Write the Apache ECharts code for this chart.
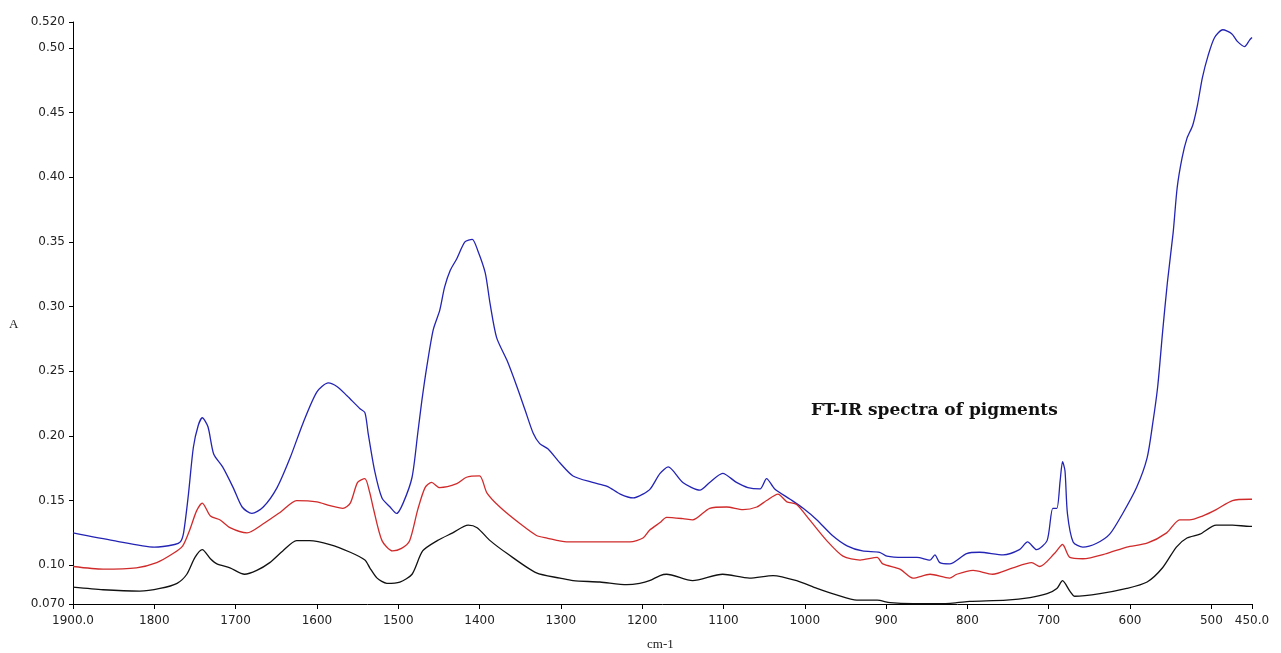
<!DOCTYPE html>
<html>
<head>
<meta charset="utf-8">
<script src="https://cdn.jsdelivr.net/npm/echarts@6/dist/echarts.min.js"></script>
<style>html,body{margin:0;padding:0;background:#fff}#c{width:1281px;height:653px}</style>
</head>
<body>
<div id="c"></div>
<script>
var xTicks = [1900,1800,1700,1600,1500,1400,1300,1200,1100,1000,900,800,700,600,500,450];
var xTickLabels = {1900:'1900.0',450:'450.0'};
var yTicks = [0.070,0.10,0.15,0.20,0.25,0.30,0.35,0.40,0.45,0.50,0.520];
var yTickLabels = ['0.070','0.10','0.15','0.20','0.25','0.30','0.35','0.40','0.45','0.50','0.520'];

var blueX = [1900,1850,1800,1775,1768,1764,1758,1752,1746,1741,1734,1727,1716,1703,1692,1680,1666,1649,1633,1617,1600,1586,1575,1563,1547,1541,1537,1529,1520,1510,1502,1494,1483,1476,1471,1465,1457,1449,1443,1436,1428,1418,1409,1402,1393,1387,1379,1366,1354,1344,1334,1326,1316,1301,1285,1261,1243,1227,1211,1199,1190,1178,1168,1150,1129,1117,1101,1084,1070,1055,1047,1037,1018,1002,985,966,948,929,908,899,879,862,846,840,834,822,801,785,756,736,726,715,702,695,690,686,683,680,677,670,658,641,625,609,592,579,572,566,560,554,547,542,536,530,523,517,511,504,496,486,475,468,459,453,450];
var blueY = [0.125,0.119,0.114,0.116,0.118,0.125,0.155,0.191,0.208,0.214,0.207,0.186,0.176,0.160,0.145,0.140,0.145,0.160,0.183,0.210,0.234,0.241,0.238,0.231,0.221,0.218,0.202,0.173,0.152,0.145,0.140,0.148,0.168,0.202,0.227,0.253,0.282,0.297,0.315,0.328,0.337,0.350,0.352,0.343,0.326,0.302,0.276,0.258,0.238,0.220,0.202,0.194,0.190,0.179,0.169,0.164,0.161,0.155,0.152,0.155,0.159,0.171,0.176,0.164,0.158,0.164,0.171,0.164,0.160,0.159,0.167,0.159,0.151,0.144,0.135,0.123,0.115,0.111,0.110,0.107,0.106,0.106,0.104,0.108,0.102,0.101,0.109,0.110,0.108,0.112,0.118,0.112,0.119,0.144,0.144,0.165,0.180,0.173,0.140,0.118,0.114,0.117,0.124,0.140,0.160,0.183,0.210,0.238,0.280,0.319,0.357,0.392,0.415,0.430,0.440,0.456,0.477,0.494,0.508,0.514,0.511,0.505,0.501,0.506,0.508];

var redX = [1900,1863,1822,1797,1777,1765,1756,1748,1741,1731,1719,1707,1686,1666,1645,1625,1600,1584,1568,1559,1550,1541,1535,1531,1520,1507,1496,1486,1476,1467,1459,1449,1428,1416,1400,1391,1375,1350,1330,1317,1293,1252,1215,1199,1191,1178,1170,1150,1138,1117,1096,1076,1059,1047,1033,1022,1010,994,973,953,932,911,904,883,867,846,822,813,793,769,744,721,711,693,683,674,658,629,604,579,555,539,527,511,494,474,453,450];
var redY = [0.099,0.097,0.098,0.102,0.109,0.115,0.128,0.142,0.148,0.138,0.135,0.129,0.125,0.132,0.141,0.150,0.149,0.146,0.144,0.148,0.164,0.167,0.156,0.145,0.119,0.111,0.113,0.119,0.143,0.160,0.164,0.160,0.163,0.168,0.169,0.156,0.145,0.132,0.123,0.121,0.118,0.118,0.118,0.121,0.127,0.133,0.137,0.136,0.135,0.144,0.145,0.143,0.145,0.150,0.155,0.149,0.147,0.135,0.119,0.107,0.104,0.106,0.101,0.097,0.090,0.093,0.090,0.093,0.096,0.093,0.098,0.102,0.099,0.109,0.116,0.106,0.105,0.109,0.114,0.117,0.125,0.135,0.135,0.138,0.143,0.150,0.151,0.151];

var blackX = [1900,1863,1818,1793,1772,1760,1750,1741,1731,1723,1707,1689,1674,1658,1642,1625,1609,1584,1559,1541,1535,1526,1514,1498,1483,1470,1452,1433,1414,1403,1387,1366,1330,1301,1285,1252,1219,1203,1191,1178,1170,1138,1101,1068,1039,1010,985,961,936,911,895,867,834,813,797,752,723,702,690,683,674,668,637,604,579,560,543,530,514,494,474,453,450];
var blackY = [0.083,0.081,0.080,0.082,0.086,0.093,0.106,0.112,0.105,0.101,0.098,0.093,0.096,0.102,0.111,0.119,0.119,0.116,0.110,0.104,0.098,0.090,0.086,0.087,0.093,0.111,0.119,0.125,0.131,0.129,0.119,0.109,0.094,0.090,0.088,0.087,0.085,0.086,0.088,0.092,0.093,0.088,0.093,0.090,0.092,0.088,0.082,0.077,0.073,0.073,0.071,0.0702,0.0702,0.071,0.072,0.073,0.075,0.078,0.082,0.088,0.080,0.076,0.078,0.082,0.087,0.098,0.114,0.121,0.124,0.131,0.131,0.130,0.130];

function zip(xs, ys){ return xs.map(function(x,i){ return [x, ys[i]]; }); }

var chart = echarts.init(document.getElementById('c'), null, {renderer:'canvas'});
var tickFont = {fontFamily:'DejaVu Sans', fontSize:12, color:'#222'};
function lineSeries(name, xs, ys, color){
  return {name:name, type:'line', data:zip(xs, ys), showSymbol:false, symbol:'none',
    smooth:0.25, lineStyle:{color:color, width:1.3}, animation:false};
}
chart.setOption({
  animation:false,
  backgroundColor:'#fff',
  grid:{left:73, right:29, top:22, bottom:49},
  xAxis:{type:'value', inverse:true, min:450, max:1900,
    axisLine:{show:true, onZero:false, lineStyle:{color:'#000', width:1}},
    axisTick:{show:true, length:5, lineStyle:{color:'#000'}, customValues:xTicks},
    axisLabel:Object.assign({margin:11, customValues:xTicks, formatter:function(v){ return xTickLabels[v] || String(v); }}, tickFont),
    splitLine:{show:false}},
  yAxis:{type:'value', min:0.070, max:0.520,
    axisLine:{show:true, onZero:false, lineStyle:{color:'#000', width:1}},
    axisTick:{show:true, length:4, lineStyle:{color:'#000'}, customValues:yTicks},
    axisLabel:Object.assign({margin:8, customValues:yTicks, formatter:function(v){
      var best=0, d=1e9; yTicks.forEach(function(t,i){ if(Math.abs(t-v)<d){d=Math.abs(t-v);best=i;} }); return yTickLabels[best]; }}, tickFont),
    splitLine:{show:false}},
  graphic:[
    {type:'text', left:9, top:318, style:{text:'A', font:'13px "Liberation Serif"', fill:'#222'}},
    {type:'text', left:647, top:638, style:{text:'cm-1', font:'13px "Liberation Serif"', fill:'#222'}},
    {type:'text', left:811, top:402, style:{text:'FT-IR spectra of pigments', font:'bold 17px "DejaVu Serif"', fill:'#111'}}
  ],
  series:[
    lineSeries('blue', blueX, blueY, '#2323b4'),
    lineSeries('red', redX, redY, '#d02a2a'),
    lineSeries('black', blackX, blackY, '#111111')
  ]
});
</script>
</body>
</html>
